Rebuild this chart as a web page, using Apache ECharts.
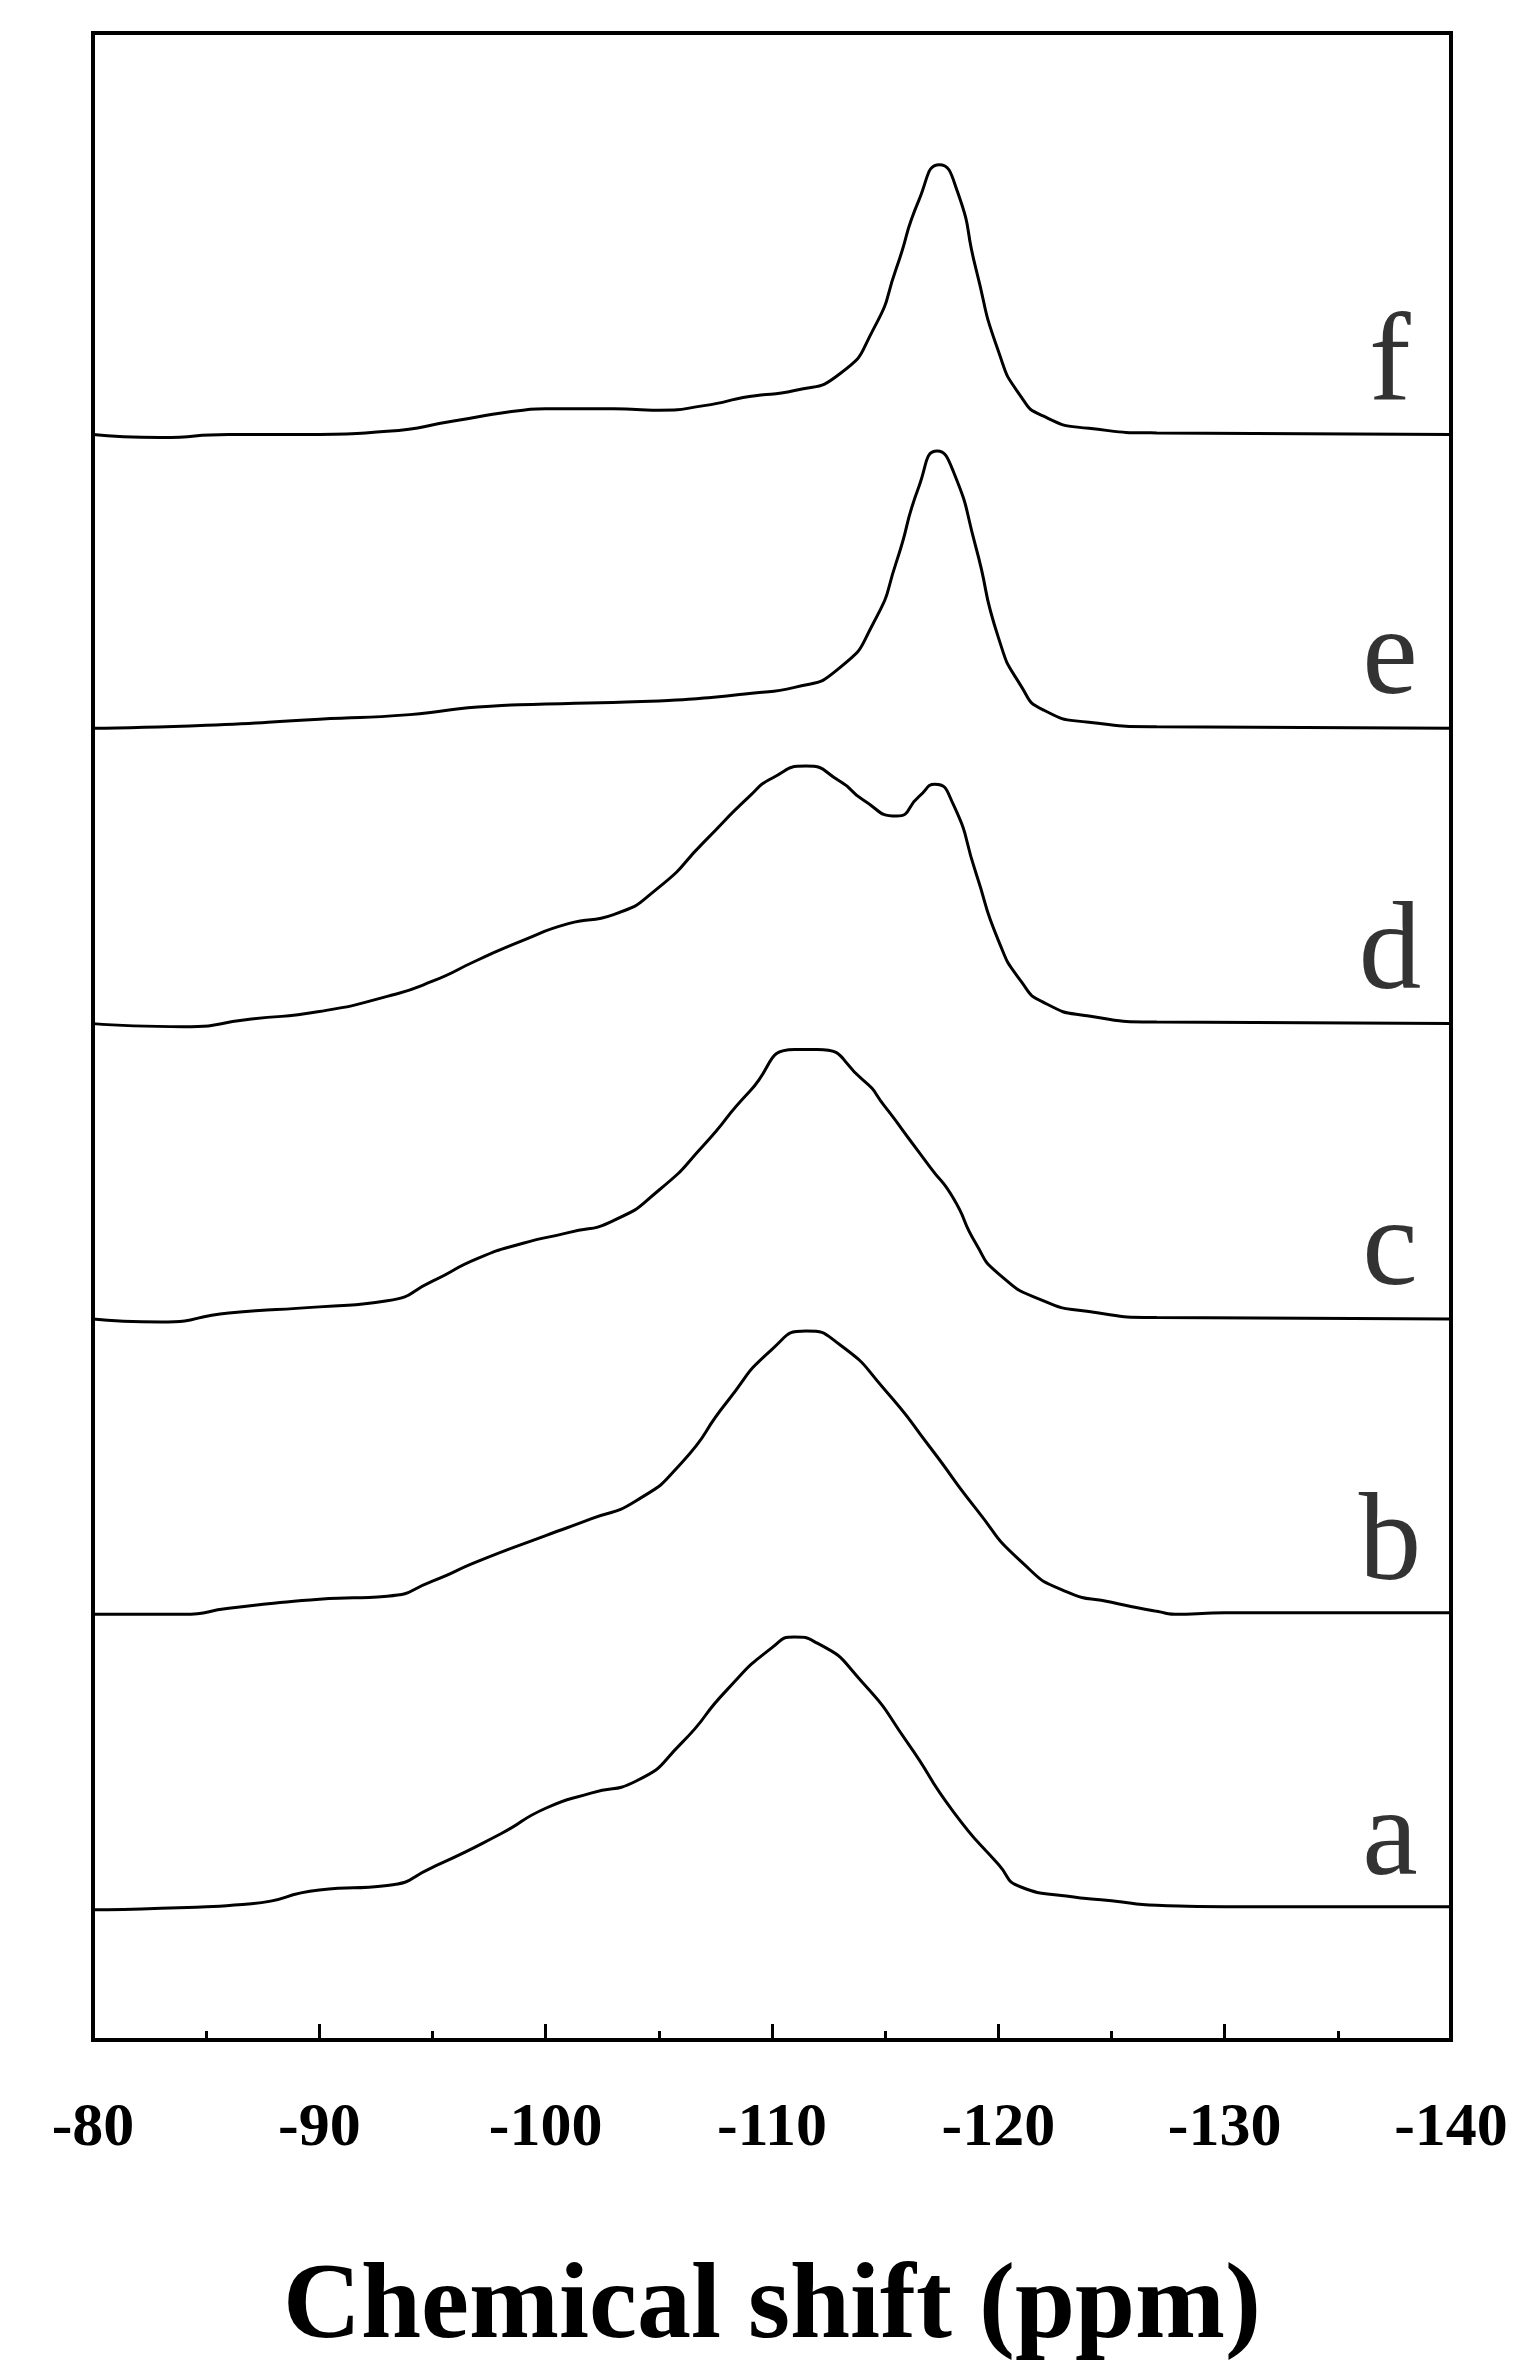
<!DOCTYPE html>
<html><head><meta charset="utf-8">
<script src="https://cdn.jsdelivr.net/npm/echarts@6/dist/echarts.min.js"></script>
<style>html,body{margin:0;padding:0;background:#fff}#c{width:1539px;height:2372px}</style>
</head><body><div id="c"></div>
<script>
const labels = ['a','b','c','d','e','f'];
const offsets = [86, 281, 476, 671, 866, 1060];
const specA = [[-80,0],[-83,1],[-87,4],[-90,13],[-93,16],[-95,28],[-98,50],[-100,67],[-102,77],[-104,85],[-106,110],[-108,145],[-110,173],[-111,180],[-112,176],[-114,150],[-116,110],[-118,65],[-120,30],[-121,15],[-123,9],[-125,6],[-127,3],[-130,2],[-140,2]];
const specB = [[-80,0],[-84,0],[-86,4],[-90,10],[-93,12],[-95,22],[-97,35],[-100,52],[-102,63],[-104,75],[-106,100],[-108,140],[-110,175],[-111.5,187],[-113,178],[-115,148],[-117,110],[-119,70],[-121,35],[-123,15],[-125,8],[-127,2],[-128,0],[-130,1],[-140,1]];
const specC = [[-80,0],[-83,-2],[-86,4],[-90,8],[-93,12],[-95,25],[-97,40],[-99,50],[-101,57],[-103,65],[-105,85],[-107,115],[-109,150],[-111,178],[-112,178],[-114,158],[-115,140],[-116,120],[-117,100],[-118,80],[-119,50],[-120,30],[-122,12],[-124,5],[-127,1],[-140,0]];
const specD = [[-80,0],[-84,-2],[-87,3],[-90,8],[-93,18],[-95,28],[-97,42],[-99,55],[-101,66],[-103,72],[-105,90],[-107,120],[-109,150],[-110,162],[-111.5,170],[-113,160],[-114,148],[-115.5,137],[-116.5,150],[-117.2,158],[-118,145],[-119,100],[-120,55],[-121,28],[-122,14],[-124,5],[-127,1],[-140,0]];
const specE = [[-80,0],[-85,2],[-90,6],[-94,9],[-97,14],[-100,16],[-105,18],[-107,20],[-109,23],[-111,27],[-113,40],[-114.5,70],[-115.5,110],[-116.5,160],[-117.3,183],[-118,170],[-119,120],[-120,60],[-121,28],[-122,12],[-124,4],[-127,1],[-140,0]];
const specF = [[-80,0],[-83,-2],[-86,0],[-90,0],[-93,2],[-96,9],[-99,16],[-100,17],[-103,17],[-105,16],[-107,19],[-109,25],[-111,29],[-113,40],[-114.5,70],[-115.5,110],[-116.5,155],[-117.4,178],[-118.2,160],[-119,110],[-120,55],[-121,25],[-122,12],[-124,4],[-127,1],[-140,0]];
const spectra = [specA, specB, specC, specD, specE, specF];
const labelX = -137.3;
const labelLift = 45;

const font = '"Liberation Serif", "Times New Roman", serif';
const series = spectra.map((s, i) => ({
  type: 'line', smooth: 0.6, symbol: 'none',
  lineStyle: {color: '#000', width: 3},
  data: s.map(p => [p[0], p[1] + offsets[i]])
}));
series.push({
  type: 'scatter', symbolSize: 0,
  data: labels.map((l, i) => ({value: [labelX, offsets[i] + labelLift], name: l})),
  label: {show: true, position: 'inside', formatter: p => p.name, fontFamily: font, fontSize: 125, color: '#000'}
});
const chart = echarts.init(document.getElementById('c'));
chart.setOption({
  animation: false,
  backgroundColor: '#fff',
  grid: {left: 93, right: 88, top: 33, bottom: 332, show: true, borderColor: '#000', borderWidth: 4},
  xAxis: {
    type: 'value', min: -140, max: -80, interval: 10, inverse: true,
    axisLine: {lineStyle: {color: '#000', width: 4}},
    axisTick: {inside: true, length: 16, lineStyle: {width: 3, color: '#000'}},
    minorTick: {show: true, splitNumber: 2, length: 9, lineStyle: {width: 3, color: '#000'}},
    splitLine: {show: false},
    axisLabel: {fontFamily: font, fontWeight: 'bold', fontSize: 62, color: '#000', margin: 58},
    name: 'Chemical shift (ppm)', nameLocation: 'middle', nameGap: 215,
    nameTextStyle: {fontFamily: font, fontWeight: 'bold', fontSize: 108, color: '#000'}
  },
  yAxis: {type: 'value', min: 0, max: 1325, show: false},
  series
});
</script></body></html>
